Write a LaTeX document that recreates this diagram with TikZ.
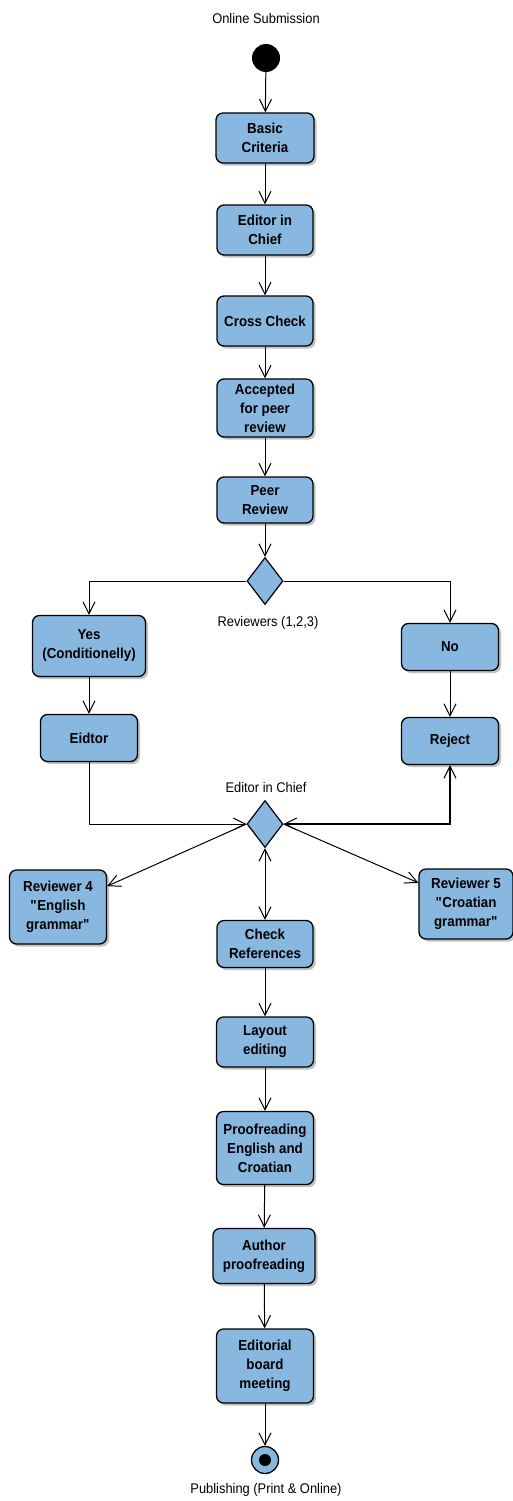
\documentclass[tikz,border=0pt]{standalone}
\usepackage{fontspec}
\setmainfont{Liberation Sans}
\newfontfamily\boxfont{Liberation Sans}[FakeStretch=0.92]
\newfontfamily\lblfont{Liberation Sans}[FakeStretch=0.92]
\usetikzlibrary{arrows.meta,shapes.geometric,shadows}
\definecolor{boxblue}{RGB}{136,184,224}
\newcommand{\dq}{\textquotedbl}
\tikzset{
  act/.style={draw=black, line width=1.3pt, rounded corners=7pt, fill=boxblue,
    align=center, inner sep=0pt, font=\boxfont\fontsize{14.5pt}{19pt}\selectfont\bfseries,
    drop shadow={shadow xshift=2.5pt, shadow yshift=-2.5pt, fill=black!40, opacity=0.6}},
  dec/.style={diamond, draw=black, line width=1.2pt, fill=boxblue, inner sep=0pt,
    minimum width=36pt, minimum height=47pt},
  lbl/.style={font=\lblfont\fontsize{14pt}{16pt}\selectfont, inner sep=0pt},
  flow/.style={draw=black, line width=1pt, -{Straight Barb[length=12pt,width=12pt,line width=1pt]}},
  both/.style={draw=black, line width=1pt, {Straight Barb[length=12pt,width=12pt,line width=1pt]}-{Straight Barb[length=12pt,width=12pt,line width=1pt]}}
}
\begin{document}
\begin{tikzpicture}[x=1pt,y=-1pt]
\useasboundingbox[fill=white] (0,0) rectangle (512,1501);
% labels
\node[lbl] (lstart) at (266,18) {Online Submission};
\node[lbl] (lrev) at (268,623) {Reviewers (1,2,3)};
\node[lbl] (leic) at (266,787) {Editor in Chief};
\node[lbl] (lpub) at (266,1490) {Publishing (Print \& Online)};
% start / end
\node[circle, fill=black, minimum size=28pt, inner sep=0pt] (start) at (266,58) {};
\node[circle, draw=black, line width=1.3pt, fill=boxblue, minimum size=27pt, inner sep=0pt] (end) at (265,1460) {};
\node[circle, fill=black, minimum size=12pt, inner sep=0pt] (enddot) at (265,1460) {};
% activities
\node[act, minimum width=98pt, minimum height=50pt] (bc) at (265,138) {Basic\\Criteria};
\node[act, minimum width=96pt, minimum height=50pt] (eic) at (265,230) {Editor in\\Chief};
\node[act, minimum width=96pt, minimum height=50pt] (cc) at (265,321) {Cross Check};
\node[act, minimum width=96pt, minimum height=58pt] (acc) at (265,408) {Accepted\\for peer\\review};
\node[act, minimum width=96pt, minimum height=46pt] (pr) at (265,500) {Peer\\Review};
\node[dec] (d1) at (265,581) {};
\node[act, minimum width=113pt, minimum height=61pt] (yes) at (89,646) {Yes\\(Conditionelly)};
\node[act, minimum width=97pt, minimum height=47pt] (no) at (450,647) {No};
\node[act, minimum width=97pt, minimum height=47pt] (eid) at (89,738) {Eidtor};
\node[act, minimum width=97pt, minimum height=47pt] (rej) at (450,741) {Reject};
\node[dec] (d2) at (265,824) {};
\node[act, minimum width=97pt, minimum height=74pt] (r4) at (58,907) {Reviewer 4\\\dq English\\grammar\dq};
\node[act, minimum width=94pt, minimum height=70pt] (r5) at (466,904) {Reviewer 5\\\dq Croatian\\grammar\dq};
\node[act, minimum width=96pt, minimum height=47pt] (chk) at (265,944) {Check\\References};
\node[act, minimum width=97pt, minimum height=50pt] (lay) at (265,1042) {Layout\\editing};
\node[act, minimum width=97pt, minimum height=73pt] (pf) at (265,1148) {Proofreading\\English and\\Croatian};
\node[act, minimum width=102pt, minimum height=55pt] (ap) at (264,1256) {Author\\proofreading};
\node[act, minimum width=97pt, minimum height=74pt] (ebm) at (265,1366) {Editorial\\board\\meeting};
% connectors
\draw[flow] (start) -- (bc);
\draw[flow] (bc) -- (eic);
\draw[flow] (eic) -- (cc);
\draw[flow] (cc) -- (acc);
\draw[flow] (acc) -- (pr);
\draw[flow] (pr) -- (d1.north);
\draw[flow] (d1.west) -| (yes.north);
\draw[flow] (d1.east) -| (no.north);
\draw[flow] (yes) -- (eid);
\draw[flow] (no) -- (rej);
\draw[flow] (eid.south) |- (d2.west);
\draw[both, line width=2pt] (d2.east) -| (rej.south);
\draw[flow] (d2.west) -- (r4.23);
\draw[flow] (d2.east) -- (r5.156);
\draw[both] (d2.south) -- (chk.north);
\draw[flow] (chk) -- (lay);
\draw[flow] (lay) -- (pf);
\draw[flow] (pf) -- (ap);
\draw[flow] (ap) -- (ebm);
\draw[flow] (ebm) -- (end);
\end{tikzpicture}
\end{document}
